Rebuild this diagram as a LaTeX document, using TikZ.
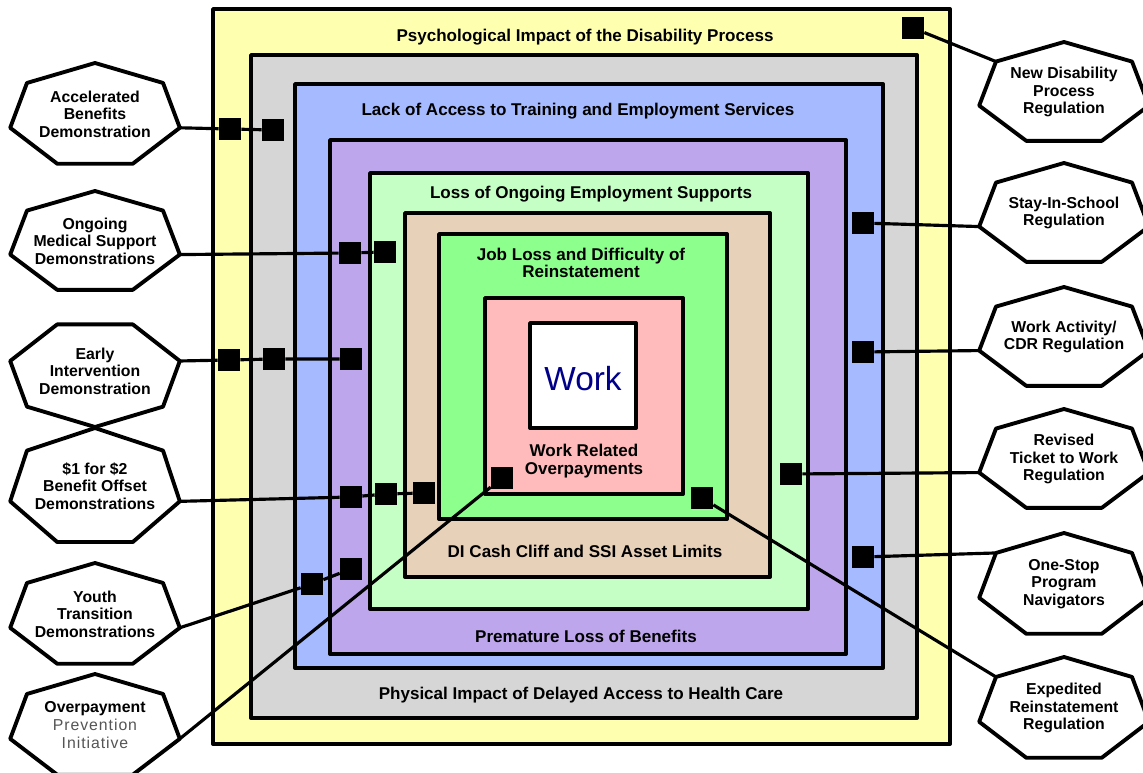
\documentclass[tikz,border=0pt]{standalone}
\usepackage{fontspec}
\setmainfont{Liberation Sans}

\definecolor{psych}{HTML}{FFFFB0}
\definecolor{health}{HTML}{D6D6D6}
\definecolor{access}{HTML}{A6BBFF}
\definecolor{benefits}{HTML}{BDA6EB}
\definecolor{supports}{HTML}{C6FFC6}
\definecolor{cliff}{HTML}{E8D1B9}
\definecolor{jobloss}{HTML}{8CFF8C}
\definecolor{overpay}{HTML}{FFBBBB}
\definecolor{worknavy}{HTML}{000088}
\definecolor{softgray}{HTML}{555555}

\tikzset{
  layer/.style={draw=black, line width=2.2pt, line join=round},
  title/.style={font=\bfseries\fontsize{9.7}{10}\selectfont, align=center, inner sep=0pt},
  tag/.style={fill=black, minimum size=0.44cm, inner sep=0pt},
  link/.style={line width=1.8pt},
  hepline/.style={draw=black, fill=white, line width=2.2pt, line join=round},
  heptext/.style={font=\bfseries\fontsize{9}{10}\selectfont, align=center, inner sep=0pt},
}

% lighter words inside a heptagon label
\newcommand{\lite}[1]{{\mdseries\addfontfeature{LetterSpace=6}\color{softgray}#1}}

% \hepta{name}{x}{y}{half height}{text}, corners are (name-0) .. (name-6)
\newcommand{\hepta}[5]{%
  \foreach \k in {0,...,6}
    \coordinate (#1-\k) at ({#2+87*cos(90+\k*360/7)},{#3-(#4)*sin(90+\k*360/7)});
  \draw[hepline] (#1-0) -- (#1-1) -- (#1-2) -- (#1-3) -- (#1-4) -- (#1-5) -- (#1-6) -- cycle;
  \node[heptext] (#1) at (#2,#3-2) {#5};
}

\begin{document}
\begin{tikzpicture}[x=0.02cm, y=-0.02cm]
  \clip (0,0) rectangle (1143,773);

  % nested barriers
  \draw[layer, fill=psych]    (213,9)   rectangle (950,744);
  \draw[layer, fill=health]   (251,55)  rectangle (917,718);
  \draw[layer, fill=access]   (295,84)  rectangle (883,668);
  \draw[layer, fill=benefits] (330,140) rectangle (846,654);
  \draw[layer, fill=supports] (370,173) rectangle (808,609);
  \draw[layer, fill=cliff]    (405,213) rectangle (770,577);
  \draw[layer, fill=jobloss]  (439,234) rectangle (727,519);
  \draw[layer, fill=overpay]  (485,298) rectangle (683,494);
  \draw[layer, fill=white]    (530,323) rectangle (636,428);

  \node[title] (psy)  at (585,37)  {Psychological Impact of the Disability Process};
  \node[title] (acc)  at (578,111) {Lack of Access to Training and Employment Services};
  \node[title] (sup)  at (591,194) {Loss of Ongoing Employment Supports};
  \node[title] (job)  at (581,263) {Job Loss and Difficulty of\\Reinstatement};
  \node[font=\fontsize{19}{20}\selectfont, text=worknavy] (work) at (583,379) {Work};
  \node[title] (wro)  at (584,461) {Work Related\\Overpayments};
  \node[title] (dic)  at (585,551) {DI Cash Cliff and SSI Asset Limits};
  \node[title] (pre)  at (586,636) {Premature Loss of Benefits};
  \node[title] (phy)  at (581,695) {Physical Impact of Delayed Access to Health Care};

  % initiatives on the left
  \hepta{abd}{95}{116}{53}{Accelerated\\Benefits\\Demonstration}
  \hepta{oms}{95}{243}{52}{Ongoing\\Medical Support\\Demonstrations}
  \hepta{eid}{95}{373}{-54}{Early\\Intervention\\Demonstration}
  \hepta{bod}{95}{488}{60}{\$1 for \$2\\Benefit Offset\\Demonstrations}
  \hepta{ytd}{95}{616}{53}{Youth\\Transition\\Demonstrations}
  \hepta{opi}{95}{727}{53}{Overpayment\\\lite{Prevention}\\\lite{Initiative}}

  % initiatives on the right
  \hepta{ndp}{1064}{94}{52}{New Disability\\Process\\Regulation}
  \hepta{sis}{1064}{215}{52}{Stay-In-School\\Regulation}
  \hepta{wac}{1064}{339}{52}{Work Activity/\\CDR Regulation}
  \hepta{rtw}{1064}{461}{52}{Revised\\Ticket to Work\\Regulation}
  \hepta{osn}{1064}{586}{53}{One-Stop\\Program\\Navigators}
  \hepta{err}{1064}{710}{53}{Expedited\\Reinstatement\\Regulation}

  % barrier markers
  \node[tag] (abd1) at (230,129) {};
  \node[tag] (abd2) at (273,130) {};
  \node[tag] (oms1) at (350,253) {};
  \node[tag] (oms2) at (385,252) {};
  \node[tag] (eid1) at (229,360) {};
  \node[tag] (eid2) at (274,359) {};
  \node[tag] (eid3) at (351,359) {};
  \node[tag] (bod1) at (351,497) {};
  \node[tag] (bod2) at (386,494) {};
  \node[tag] (bod3) at (424,493) {};
  \node[tag] (ytd1) at (312,584) {};
  \node[tag] (ytd2) at (351,569) {};
  \node[tag] (opi1) at (502,478) {};
  \node[tag] (ndp1) at (913,28)  {};
  \node[tag] (sis1) at (863,223) {};
  \node[tag] (wac1) at (863,352) {};
  \node[tag] (rtw1) at (791,474) {};
  \node[tag] (osn1) at (863,557) {};
  \node[tag] (err1) at (702,498) {};

  \draw[link] (abd-5) -- (abd1) -- (abd2);
  \draw[link] (oms-5) -- (oms1) -- (oms2);
  \draw[link] (eid-5) -- (eid1) -- (eid2) -- (eid3);
  \draw[link] (bod-5) -- (bod1) -- (bod2) -- (bod3);
  \draw[link] (ytd-5) -- (ytd1) -- (ytd2);
  \draw[link] (opi-5) -- (opi1);
  \draw[link] (ndp1) -- (ndp-1);
  \draw[link] (sis1) -- (sis-2);
  \draw[link] (wac1) -- (wac-2);
  \draw[link] (rtw1) -- (rtw-2);
  \draw[link] (osn1) -- (osn-1);
  \draw[link] (err1) -- (err-1);
\end{tikzpicture}
\end{document}
